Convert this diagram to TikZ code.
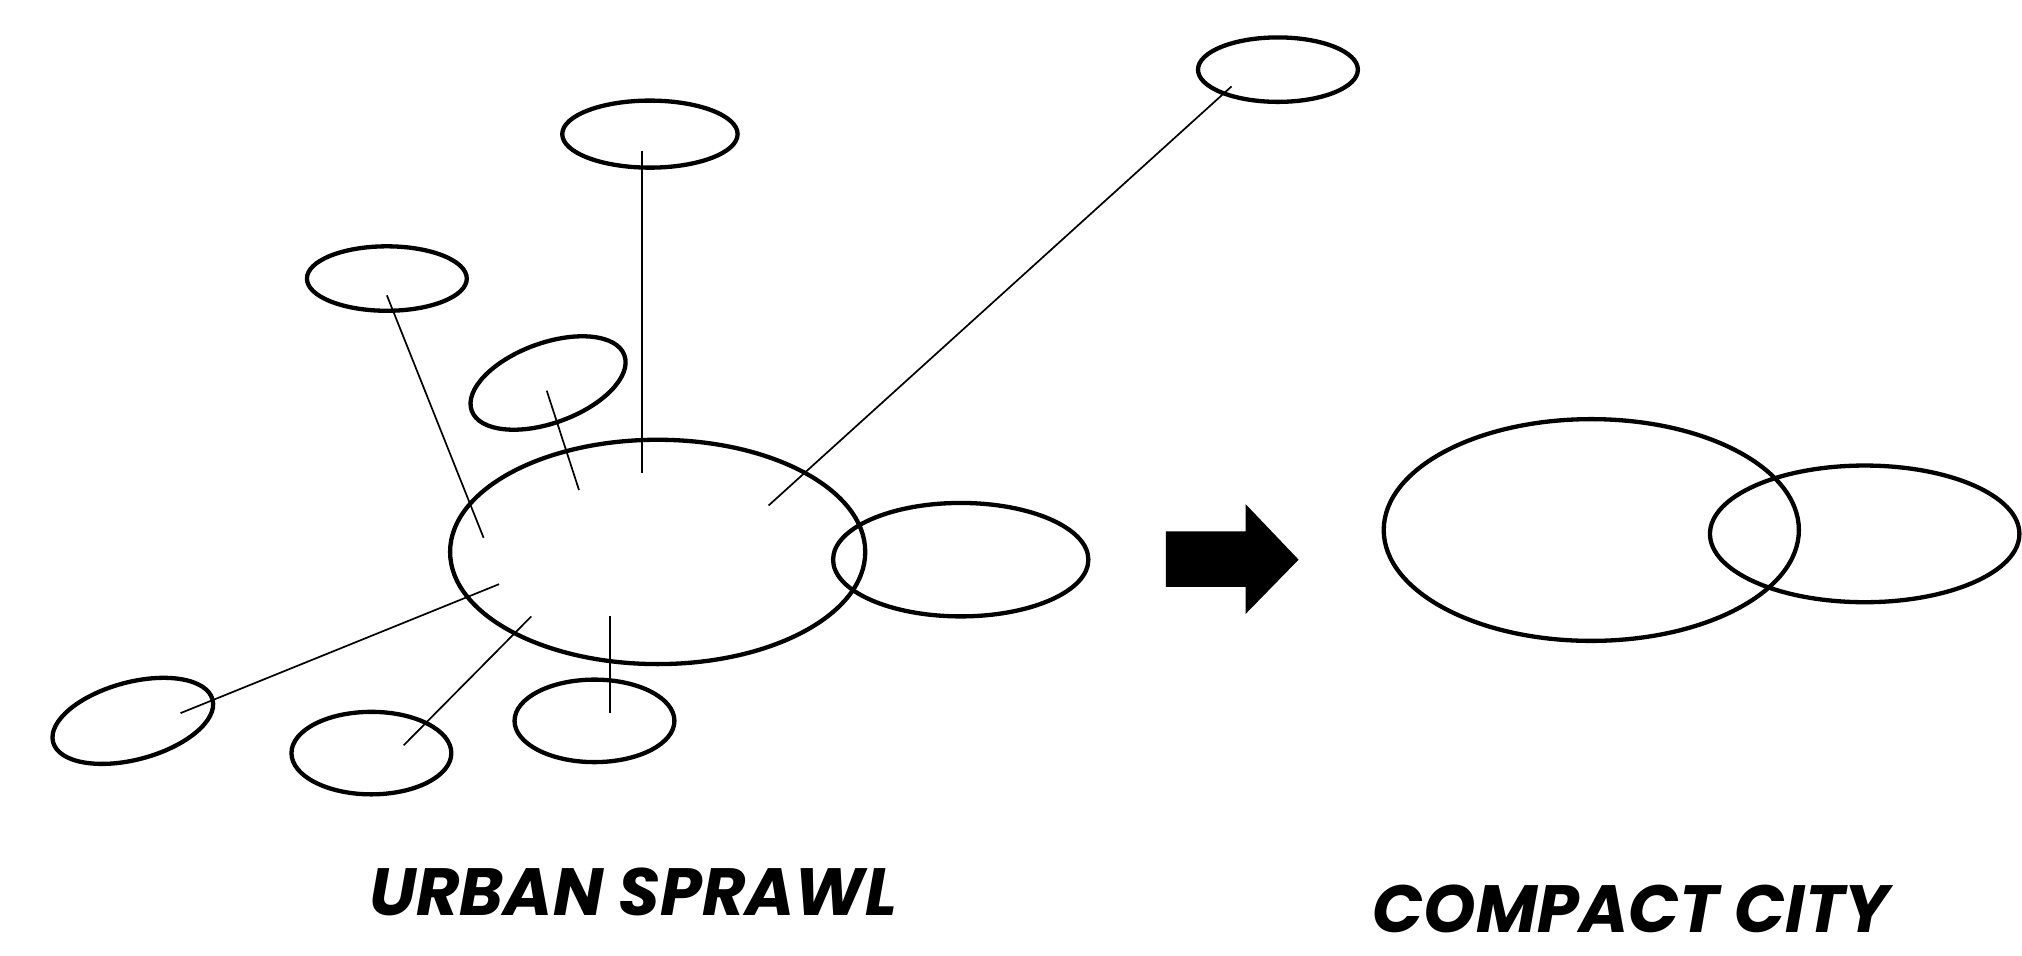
\documentclass[tikz,border=0pt]{standalone}
\usepackage{fontspec}
\setmainfont{Poppins}
\usetikzlibrary{shapes.geometric}

\begin{document}
\begin{tikzpicture}[
  x=0.02cm, y=-0.02cm,
  blob/.style={draw, ellipse, inner sep=0pt, line width=1.9pt},
  spoke/.style={line width=0.75pt},
  title/.style={font=\fontsize{29.5}{32}\selectfont\bfseries\itshape}
]
\useasboundingbox (0,0) rectangle (1568,741);

% urban sprawl
\node[blob, minimum width=6.44cm, minimum height=3.48cm] (hub) at (510,428) {};
\node[blob, minimum width=3.96cm, minimum height=1.76cm] (annex) at (745,434) {};
\node[blob, minimum width=2.48cm, minimum height=1.0cm] (satNE) at (991,54) {};
\node[blob, minimum width=2.72cm, minimum height=1.04cm] (satN) at (504,104) {};
\node[blob, minimum width=2.48cm, minimum height=1.0cm] (satNW) at (300,216) {};
\node[blob, minimum width=2.52cm, minimum height=1.24cm, rotate=20] (satTilt) at (425,297) {};
\node[blob, minimum width=2.56cm, minimum height=1.2cm, rotate=15] (satSW) at (103,559) {};
\node[blob, minimum width=2.48cm, minimum height=1.28cm] (satS) at (288,584) {};
\node[blob, minimum width=2.48cm, minimum height=1.28cm] (satSE) at (461,559) {};

\coordinate (hNE) at (596,392);
\coordinate (eNE) at (955,67);
\coordinate (hN) at (498,367);
\coordinate (eN) at (498,117);
\coordinate (hNW) at (375,417);
\coordinate (eNW) at (300,229);
\coordinate (hTilt) at (449,380);
\coordinate (eTilt) at (424,303);
\coordinate (hSW) at (387,453);
\coordinate (eSW) at (140,553);
\coordinate (hS) at (412,478);
\coordinate (eS) at (313,578);
\coordinate (hSE) at (473,478);
\coordinate (eSE) at (473,553);

\draw[spoke] (hNE) -- (eNE);
\draw[spoke] (hN) -- (eN);
\draw[spoke] (hNW) -- (eNW);
\draw[spoke] (hTilt) -- (eTilt);
\draw[spoke] (hSW) -- (eSW);
\draw[spoke] (hS) -- (eS);
\draw[spoke] (hSE) -- (eSE);

% arrow
\fill (904,412) -- (966,412) -- (966,391) -- (1007,434) -- (966,476) -- (966,455) -- (904,455) -- cycle;

% compact city
\node[blob, minimum width=6.44cm, minimum height=3.44cm] (core) at (1234,411) {};
\node[blob, minimum width=4.8cm, minimum height=2.12cm] (infill) at (1446,414) {};

\node[title] (sprawl) at (491,692) {URBAN SPRAWL};
\node[title] (compact) at (1265,705) {COMPACT CITY};
\end{tikzpicture}
\end{document}
